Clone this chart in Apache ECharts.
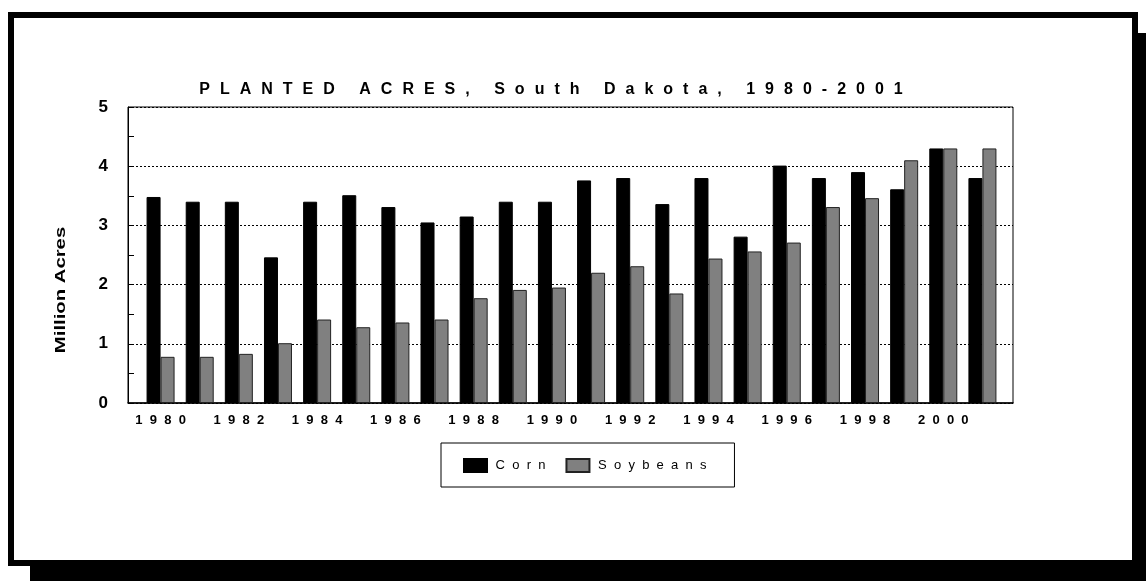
<!DOCTYPE html>
<html>
<head>
<meta charset="utf-8">
<script src="https://cdn.jsdelivr.net/npm/echarts@6/dist/echarts.min.js"></script>
<style>
html,body{margin:0;padding:0;background:#fff;}
#chart{width:1146px;height:581px;}
</style>
</head>
<body>
<div id="chart"></div>
<script>
const years = ['1980','1981','1982','1983','1984','1985','1986','1987','1988','1989','1990','1991','1992','1993','1994','1995','1996','1997','1998','1999','2000','2001'];
const corn = [3.48,3.40,3.40,2.46,3.40,3.51,3.31,3.05,3.15,3.40,3.40,3.76,3.80,3.36,3.80,2.81,4.01,3.80,3.90,3.61,4.30,3.80];
const soybeans = [0.78,0.78,0.83,1.01,1.41,1.28,1.36,1.41,1.77,1.91,1.95,2.20,2.31,1.85,2.44,2.56,2.71,3.31,3.46,4.10,4.30,4.30];
const yMin = 0, yMax = 5, yStep = 1;
const titleText = 'PLANTED ACRES, South Dakota, 1980-2001';
const yName = 'Million Acres';
const seriesNames = ['Corn', 'Soybeans'];

function spaced(s) { return s.split('').join('  '); }
function richSpaced(s) { return s.split('').join('{g|  }'); }

const chart = echarts.init(document.getElementById('chart'), null, {renderer: 'canvas'});
chart.setOption({
  animation: false,
  backgroundColor: '#fff',
  title: {
    text: richSpaced(titleText),
    left: 546,
    top: 77,
    textAlign: 'center',
    textStyle: {
      fontFamily: 'Liberation Sans, Arial, sans-serif',
      fontSize: 16,
      fontWeight: 'bold',
      color: '#000',
      rich: { g: { fontSize: 18, lineHeight: 16, fontWeight: 'bold' } }
    }
  },
  graphic: [
    { type: 'rect', z: -10, silent: true, shape: {x: 30, y: 33, width: 1130, height: 560}, style: {fill: '#000'} },
    { type: 'rect', z: -9, silent: true, shape: {x: 11, y: 15, width: 1124, height: 548}, style: {fill: '#fff', stroke: '#000', lineWidth: 6} },
    { type: 'text', z: 5, silent: true, x: 61, y: 290, rotation: Math.PI / 2, scaleX: 1.45,
      style: { text: yName, x: 0, y: 0, align: 'center', verticalAlign: 'middle',
        font: 'bold 14px "Liberation Sans", Arial, sans-serif', fill: '#000' } }
  ],
  legend: {
    data: seriesNames,
    left: 441,
    top: 443,
    orient: 'horizontal',
    icon: 'rect',
    padding: [15, 28, 14, 22],
    itemWidth: 23,
    itemHeight: 13,
    itemGap: 20,
    borderColor: '#000',
    borderWidth: 1,
    backgroundColor: '#fff',
    formatter: function (name) { return ' ' + spaced(name); },
    textStyle: { fontFamily: 'Liberation Sans, Arial, sans-serif', fontSize: 13, color: '#000' }
  },
  grid: [
    { left: 128, top: 107, width: 885, height: 296, show: true, borderColor: '#000', borderWidth: 1, backgroundColor: 'transparent' },
    { left: 141, top: 107, width: 861, height: 296 }
  ],
  xAxis: [
    { gridIndex: 0, type: 'value', min: 0, max: 1,
      axisLine: { show: true, onZero: false, lineStyle: { color: '#000', width: 1.5 } },
      axisTick: { show: false }, axisLabel: { show: false }, splitLine: { show: false } },
    { gridIndex: 1, type: 'category', data: years, boundaryGap: true,
      axisLine: { show: false }, axisTick: { show: false }, splitLine: { show: false },
      axisLabel: { interval: 1, margin: 11, formatter: function (v) { return spaced(v); },
        fontFamily: 'Liberation Sans, Arial, sans-serif', fontSize: 13, fontWeight: 'bold', color: '#000' } }
  ],
  yAxis: [
    { gridIndex: 0, type: 'value', min: yMin, max: yMax, interval: yStep,
      axisLine: { show: true, lineStyle: { color: '#000', width: 1 } },
      axisTick: { show: true, inside: true, length: 6, lineStyle: { color: '#000' } },
      minorTick: { show: true, splitNumber: 2, length: 6, lineStyle: { color: '#000' } },
      splitLine: { show: true, lineStyle: { color: '#000', width: 1, type: [2, 2] } },
      axisLabel: { margin: 20, padding: [8, 0, 0, 0], fontFamily: 'Liberation Sans, Arial, sans-serif',
        fontSize: 17, fontWeight: 'bold', color: '#000' } },
    { gridIndex: 1, type: 'value', min: yMin, max: yMax, interval: yStep, show: false,
      splitLine: { show: false } }
  ],
  series: [
    { name: seriesNames[0], type: 'bar', xAxisIndex: 1, yAxisIndex: 1, data: corn,
      barWidth: 14, barGap: '0%',
      itemStyle: { color: '#000', borderColor: '#000', borderWidth: 1 } },
    { name: seriesNames[1], type: 'bar', xAxisIndex: 1, yAxisIndex: 1, data: soybeans,
      barWidth: 14, barGap: '0%',
      itemStyle: { color: '#808080', borderColor: '#222', borderWidth: 1 } }
  ]
});
</script>
</body>
</html>
